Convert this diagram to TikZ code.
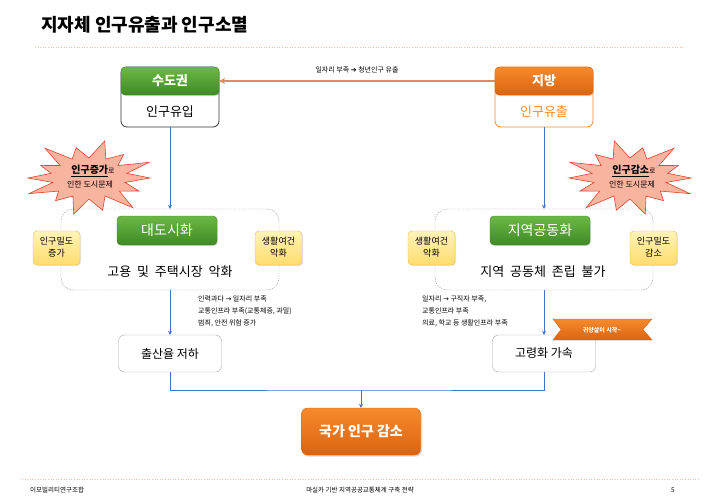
\documentclass[tikz,border=0pt]{standalone}
\usepackage{fontspec}
\setmainfont{Noto Sans CJK KR}
\newfontfamily\symf{DejaVu Sans}
\usetikzlibrary{arrows.meta,shadows,calc}
\definecolor{grnL}{HTML}{6CB845}
\definecolor{grnD}{HTML}{3F8A26}
\definecolor{orgL}{HTML}{F68A2E}
\definecolor{orgD}{HTML}{DB6410}
\definecolor{orgline}{HTML}{E8875A}
\definecolor{blu}{HTML}{4472C4}
\definecolor{ylwL}{HTML}{FFF3B8}
\definecolor{ylwD}{HTML}{FFDC6E}
\definecolor{ylwB}{HTML}{E8B64C}
\definecolor{salmon}{HTML}{F9B4A0}
\definecolor{redb}{HTML}{E0452E}
\definecolor{peach}{HTML}{EDC2A4}
\newcommand{\twolines}[2]{\begin{tabular}{@{}c@{}}#1\\#2\end{tabular}}
\newcommand{\threelinesl}[3]{\begin{tabular}{@{}l@{}}#1\\#2\\#3\end{tabular}}
\newcommand{\burstpath}{(0:33) -- (12.9:20) -- (25.7:30) -- (38.6:21) -- (51.4:38) -- (64.3:20) -- (77.1:33) -- (90:21) -- (102.9:37) -- (115.7:20) -- (128.6:29) -- (141.4:21) -- (154.3:36) -- (167.1:20) -- (180:33) -- (192.9:21) -- (205.7:29) -- (218.6:20) -- (231.4:38) -- (244.3:21) -- (257.1:31) -- (270:20) -- (282.9:38) -- (295.7:21) -- (308.6:30) -- (321.4:20) -- (334.3:36) -- (347.1:21) -- cycle}
\tikzset{
  hdrgreen/.style={rounded corners=4, top color=grnL, bottom color=grnD, draw=grnD, text=white,
    font=\fontsize{13}{13}\selectfont\bfseries, minimum width=98, minimum height=28, inner sep=0,
    drop shadow={opacity=0.25, shadow xshift=1pt, shadow yshift=-1pt}},
  hdrorange/.style={hdrgreen, top color=orgL, bottom color=orgD, draw=orgD},
  topbox/.style={rounded corners=6, draw=black!80, fill=white, line width=0.8pt, minimum width=98, minimum height=60, inner sep=0},
  midgreen/.style={hdrgreen, font=\fontsize{14}{14}\selectfont, minimum width=100, minimum height=29},
  dotbox/.style={rounded corners=12, draw=gray!80, dash pattern=on 1.5pt off 1pt, minimum width=218, minimum height=81, inner sep=0},
  ylwbox/.style={rounded corners=4, top color=ylwL, bottom color=ylwD, draw=ylwB,
    font=\fontsize{9}{12}\selectfont, minimum width=47, minimum height=34, inner sep=0,
    drop shadow={opacity=0.2, shadow xshift=1pt, shadow yshift=-1pt}},
  whitebox/.style={rounded corners=6, draw=gray!70, fill=white, font=\fontsize{12}{12}\selectfont,
    minimum width=103, minimum height=37, inner sep=0},
  natbox/.style={rounded corners=6, top color=orgL, bottom color=orgD, draw=orgD, text=white,
    font=\fontsize{14}{14}\selectfont\bfseries, minimum width=119, minimum height=47, inner sep=0,
    drop shadow={opacity=0.3, shadow xshift=1.5pt, shadow yshift=-1.5pt}},
  burstsh/.style={fill=salmon, draw=redb, line width=0.6pt, line join=miter},
  bluarr/.style={draw=blu, line width=0.7pt, -{Stealth[length=4pt,width=4pt]}},
  bluline/.style={draw=blu, line width=0.7pt},
  smalltxt/.style={font=\fontsize{7}{12}\selectfont, inner sep=0},
  foot/.style={font=\fontsize{6.5}{7}\selectfont, inner sep=0},
  bursttxt/.style={font=\fontsize{8}{8}\selectfont, inner sep=0},
}
\begin{document}
\begin{tikzpicture}[x=1pt,y=-1pt]
\useasboundingbox[fill=white] (0,0) rectangle (720,498);
% title
\node[anchor=west, font=\fontsize{18}{18}\selectfont\bfseries, inner sep=0] (title) at (41,25) {지자체 인구유출과 인구소멸};
\coordinate (tl1) at (35,47); \coordinate (tl2) at (685,47);
\draw[peach, dotted, line width=0.6pt] (tl1) -- (tl2);

% top boxes
\node[topbox] (sudo) at (170,97) {};
\node[hdrgreen] (sudoH) at (170,81) {수도권};
\node[font=\fontsize{13}{13}\selectfont, inner sep=0] (sudoT) at (170,112) {인구유입};

\node[topbox, draw=orgL] (jib) at (544,97) {};
\node[hdrorange] (jibH) at (544,81) {지방};
\node[font=\fontsize{13}{13}\selectfont, text=orgL, inner sep=0] (jibT) at (544,112) {인구유출};

\draw[draw=orgline, line width=1.2pt, -{Stealth[length=6pt,width=6pt]}] (jibH.west) -- node[above=4pt, font=\fontsize{7}{7}\selectfont, text=black]{일자리 부족 {\symf ➔} 청년인구 유출} (sudoH.east);

% dotted boxes
\node[dotbox] (lbox) at (170,249.5) {};
\node[dotbox] (rbox) at (544,249.5) {};
\draw[bluarr] (sudo.south) -- (lbox.north);
\draw[bluarr] (jib.south) -- (rbox.north);

% starbursts
\begin{scope}[shift={(89,178)}, xscale=1.85]
  \draw[burstsh] \burstpath;
\end{scope}
\node[bursttxt] (lb1) at (93,171) {{\fontsize{10}{10}\selectfont\underline{\textbf{인구증가}}}{\fontsize{7}{7}\selectfont 로}};
\node[bursttxt] (lb2) at (90,185) {인한 도시문제};
\begin{scope}[shift={(630,178)}, xscale=-1.85]
  \draw[burstsh] \burstpath;
\end{scope}
\node[bursttxt] (rb1) at (634,171) {{\fontsize{10}{10}\selectfont\underline{\textbf{인구감소}}}{\fontsize{7}{7}\selectfont 로}};
\node[bursttxt] (rb2) at (632,185) {인한 도시문제};

% left cluster
\node[midgreen] (metro) at (167,230.5) {대도시화};
\node[font=\fontsize{13}{13}\selectfont, inner sep=0] (lmain) at (170,272) {고용\ \ 및\ \ 주택시장\ \ 악화};
\node[ylwbox] (ly1) at (56.5,248) {\twolines{인구밀도}{증가}};
\node[ylwbox] (ly2) at (278.5,248) {\twolines{생활여건}{악화}};

% right cluster
\node[midgreen] (hollow) at (540,230.5) {지역공동화};
\node[font=\fontsize{13}{13}\selectfont, inner sep=0] (rmain) at (543,272) {지역\ \ 공동체\ \ 존립\ \ 불가};
\node[ylwbox] (ry1) at (431.5,248) {\twolines{생활여건}{악화}};
\node[ylwbox] (ry2) at (653.5,248) {\twolines{인구밀도}{감소}};

% bottom boxes
\node[whitebox] (birth) at (170,353.5) {출산율\ 저하};
\node[whitebox] (aging) at (544,353.5) {고령화\ 가속};
\draw[bluarr] (lbox.south) -- (birth.north);
\draw[bluarr] (rbox.south) -- (aging.north);

\node[smalltxt, anchor=north west] (ltxt) at (198,293) {\threelinesl{인력과다 {\symf →} 일자리 부족}{교통인프라 부족(교통체증, 과밀)}{범죄, 안전 위험 증가}};
\node[smalltxt, anchor=north west] (rtxt) at (422,293) {\threelinesl{일자리 {\symf →} 구직자 부족,}{교통인프라 부족}{의료, 학교 등 생활인프라 부족}};

% ribbon
\shade[top color=orgL, bottom color=orgD, draw=orgD, line width=0.4pt]
  (553,319) -- (652,319) -- (643,329.5) -- (652,340) -- (553,340) -- (561,329.5) -- cycle;
\node[font=\fontsize{6}{6}\selectfont\bfseries, text=white, inner sep=0] (rib) at (602,330) {귀양살이 시작\textasciitilde};

% national
\node[natbox] (nat) at (361,431.5) {국가 인구 감소};
\coordinate (merge) at (361,390);
\draw[bluline] (birth.south) |- (merge) -| (aging.south);
\draw[bluarr] (merge) -- (nat.north);

% footer
\coordinate (fl1) at (22,479); \coordinate (fl2) at (700,479);
\draw[peach, dotted, line width=0.6pt] (fl1) -- (fl2);
\node[foot, anchor=west] (f1) at (30,490) {이모빌리티연구조합};
\node[foot] (f2) at (360,490) {마실카 기반 지역공공교통체계 구축 전략};
\node[foot] (f3) at (673,490) {5};
\end{tikzpicture}
\end{document}
